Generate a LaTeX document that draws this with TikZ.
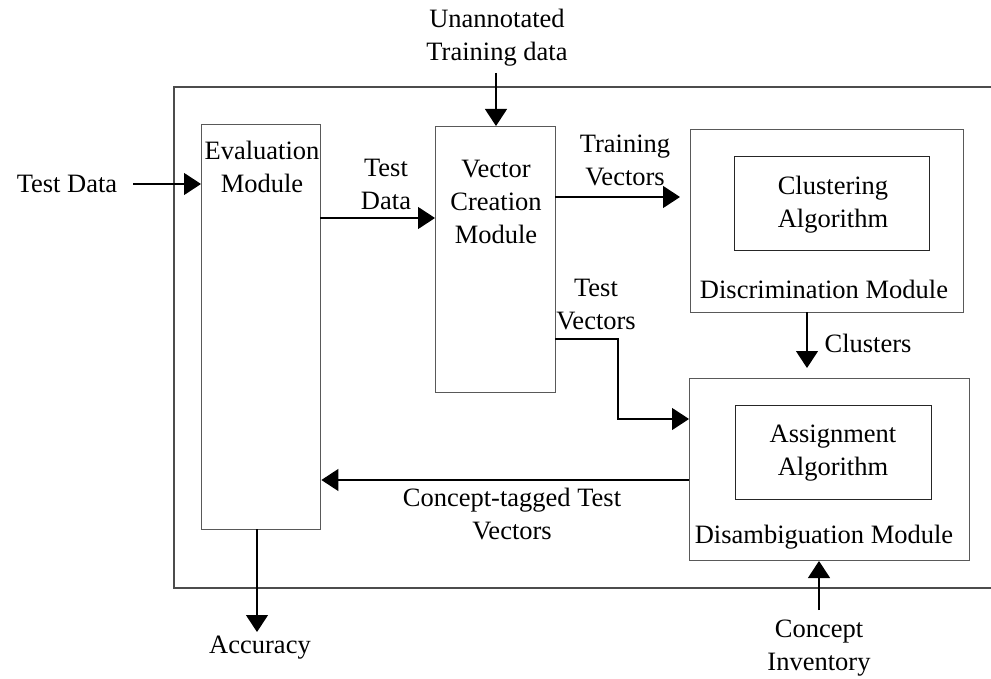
\documentclass[tikz,border=0pt]{standalone}
\usepackage{fontspec}
\setmainfont{Liberation Serif}
\usetikzlibrary{arrows.meta}
\begin{document}
\begin{tikzpicture}[x=1pt,y=-1pt,
  box/.style={draw=black!65, line width=1.4pt, inner sep=0pt, anchor=north west},
  ibox/.style={draw=black!85, line width=1.2pt, inner sep=0pt, anchor=north west},
  lbl/.style={align=center, inner sep=0pt, font=\fontsize{26.5}{33}\selectfont},
  conn/.style={draw=black, line width=1.2pt, -{Triangle[length=17pt,width=22pt]}},
  ]
\useasboundingbox (0,0) rectangle (991,679);

% outer frame (open on the right)
\coordinate (fr-tr) at (995,87);
\coordinate (fr-tl) at (174,87);
\coordinate (fr-bl) at (174,588);
\coordinate (fr-br) at (995,588);
\draw[black!70, line width=1.4pt] (fr-tr) -- (fr-tl) -- (fr-bl) -- (fr-br);

% module boxes
\node[box, minimum width=119pt, minimum height=405pt] (eval) at (201,124) {};
\node[box, minimum width=120pt, minimum height=266pt] (vec) at (435,126) {};
\node[box, minimum width=273pt, minimum height=183pt] (disc) at (690,129) {};
\node[ibox, minimum width=195pt, minimum height=94pt] (clus) at (734,156) {};
\node[box, minimum width=280pt, minimum height=182pt] (disamb) at (689,378) {};
\node[ibox, minimum width=196pt, minimum height=94pt] (assign) at (735,405) {};

% texts inside the boxes
\node[lbl] (evaltxt) at (262,167) {Evaluation\\Module};
\node[lbl] (vectxt) at (496,202) {Vector\\Creation\\Module};
\node[lbl] (clustxt) at (833,205) {Clustering\\Algorithm};
\node[lbl] (disctxt) at (824,289) {Discrimination Module};
\node[lbl] (assigntxt) at (833,453) {Assignment\\Algorithm};
\node[lbl] (disambtxt) at (824,537) {Disambiguation Module};

% external inputs and outputs
\node[lbl] (tdin) at (67,184) {Test Data};
\node[lbl] (unann) at (497,38) {Unannotated\\Training data};
\node[lbl] (acc) at (260,648) {Accuracy};
\node[lbl] (inv) at (819,648) {Concept\\Inventory};

% connector labels
\node[lbl] (tdlbl) at (386,184) {Test\\Data};
\node[lbl] (trvlbl) at (625,160) {Training\\Vectors};
\node[lbl] (tvlbl) at (596,305) {Test\\Vectors};
\node[lbl] (cluslbl) at (868,343) {Clusters};
\node[lbl] (ctlbl) at (512,514) {Concept-tagged Test\\Vectors};

% connector end points
\coordinate (td-start) at (133,184);
\coordinate (un-start) at (496,73);
\coordinate (ev-out) at (320,218);
\coordinate (tr-out) at (555,197);
\coordinate (tv-out) at (555,339);
\coordinate (tv-in) at (689,419);
\coordinate (cl-out) at (807,312);
\coordinate (ct-out) at (689,480);
\coordinate (acc-out) at (257,529);
\coordinate (acc-end) at (257,632);
\coordinate (inv-start) at (819,610);
\coordinate (inv-in) at (819,561);

% connectors
\draw[conn] (td-start) -- (td-start -| eval.west);
\draw[conn] (un-start) -- (un-start |- vec.north);
\draw[conn] (ev-out) -- (ev-out -| vec.west);
\draw[conn, shorten >=10pt] (tr-out) -- (tr-out -| disc.west);
\draw[conn] (tv-out) -- ++(63,0) |- (tv-in);
\draw[conn, shorten >=10pt] (cl-out) -- (cl-out |- disamb.north);
\draw[conn] (ct-out) -- (ct-out -| eval.east);
\draw[conn] (acc-out) -- (acc-end);
\draw[conn] (inv-start) -- (inv-in);
\end{tikzpicture}
\end{document}
